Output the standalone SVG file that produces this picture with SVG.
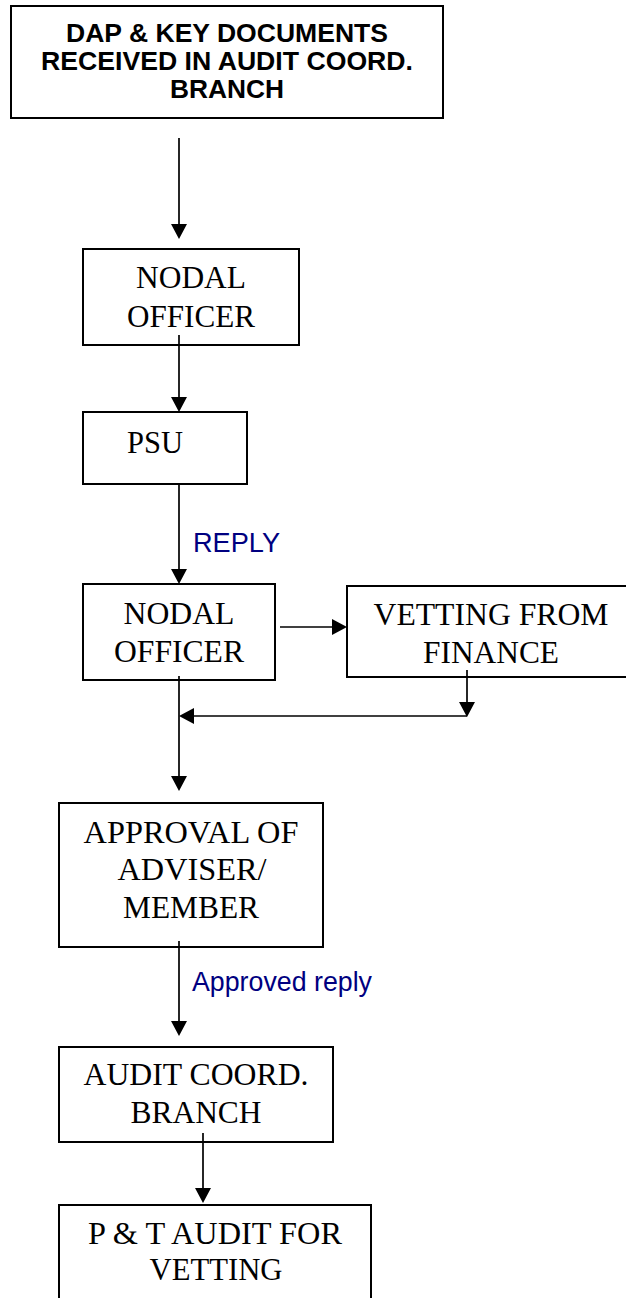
<svg xmlns="http://www.w3.org/2000/svg" width="626" height="1298" viewBox="0 0 626 1298">
  <style>
    .box { fill: #ffffff; stroke: #000000; stroke-width: 2; }
    .t { font-family: "Liberation Serif", "Times New Roman", serif; font-size: 31.5px; fill: #000000; text-anchor: middle; }
    .hb { font-family: "Liberation Sans", Arial, sans-serif; font-size: 26px; font-weight: bold; fill: #000000; text-anchor: middle; }
    .lbl { font-family: "Liberation Sans", Arial, sans-serif; font-size: 27px; fill: #000080; }
    .c { stroke: #000000; stroke-width: 1.7; fill: none; marker-end: url(#ah); }
  </style>
  <defs>
    <marker id="ah" markerUnits="userSpaceOnUse" markerWidth="16" markerHeight="16" viewBox="0 0 15 16" refX="13" refY="8" orient="auto">
      <path d="M0,0 L15,8 L0,16 Z" fill="#000000"/>
    </marker>
  </defs>

  <rect width="626" height="1298" fill="#ffffff"/>

  <g id="n-dap">
    <rect class="box" x="11" y="6" width="432" height="112"/>
    <text class="hb" x="227" y="42" textLength="322" lengthAdjust="spacingAndGlyphs">DAP &amp; KEY DOCUMENTS</text>
    <text class="hb" x="227" y="70" textLength="372" lengthAdjust="spacingAndGlyphs">RECEIVED IN AUDIT COORD.</text>
    <text class="hb" x="227" y="98" textLength="114" lengthAdjust="spacingAndGlyphs">BRANCH</text>
  </g>

  <g id="n-nodal1">
    <rect class="box" x="83" y="249" width="216" height="96"/>
    <text class="t" x="191" y="288" textLength="110" lengthAdjust="spacingAndGlyphs">NODAL</text>
    <text class="t" x="191" y="327" textLength="128" lengthAdjust="spacingAndGlyphs">OFFICER</text>
  </g>

  <g id="n-psu">
    <rect class="box" x="83" y="412" width="164" height="72"/>
    <text class="t" x="155" y="453" textLength="56" lengthAdjust="spacingAndGlyphs">PSU</text>
  </g>

  <g id="n-nodal2">
    <rect class="box" x="83" y="584" width="192" height="96"/>
    <text class="t" x="179" y="624" textLength="111" lengthAdjust="spacingAndGlyphs">NODAL</text>
    <text class="t" x="179" y="662" textLength="130" lengthAdjust="spacingAndGlyphs">OFFICER</text>
  </g>

  <g id="n-vetting">
    <rect class="box" x="347" y="586" width="280" height="91"/>
    <text class="t" x="491" y="625" textLength="235" lengthAdjust="spacingAndGlyphs">VETTING FROM</text>
    <text class="t" x="491" y="663" textLength="136" lengthAdjust="spacingAndGlyphs">FINANCE</text>
  </g>

  <g id="n-approval">
    <rect class="box" x="59" y="803" width="264" height="144"/>
    <text class="t" x="191" y="843" textLength="215" lengthAdjust="spacingAndGlyphs">APPROVAL OF</text>
    <text class="t" x="192" y="880" textLength="149" lengthAdjust="spacingAndGlyphs">ADVISER/</text>
    <text class="t" x="191" y="918" textLength="136" lengthAdjust="spacingAndGlyphs">MEMBER</text>
  </g>

  <g id="n-audit">
    <rect class="box" x="59" y="1047" width="274" height="95"/>
    <text class="t" x="196" y="1085" textLength="225" lengthAdjust="spacingAndGlyphs">AUDIT COORD.</text>
    <text class="t" x="196" y="1123" textLength="131" lengthAdjust="spacingAndGlyphs">BRANCH</text>
  </g>

  <g id="n-pt">
    <rect class="box" x="59" y="1205" width="312" height="100"/>
    <text class="t" x="215" y="1244" textLength="254" lengthAdjust="spacingAndGlyphs">P &amp; T AUDIT FOR</text>
    <text class="t" x="216" y="1280" textLength="133" lengthAdjust="spacingAndGlyphs">VETTING</text>
  </g>

  <g id="connectors">
    <line class="c" x1="179" y1="138" x2="179" y2="237"/>
    <line class="c" x1="179" y1="335" x2="179" y2="410"/>
    <line class="c" x1="179" y1="484" x2="179" y2="582"/>
    <line class="c" x1="280" y1="627" x2="345" y2="627"/>
    <line class="c" x1="467" y1="670" x2="467" y2="715"/>
    <line class="c" x1="467" y1="716" x2="181" y2="716"/>
    <line class="c" x1="179" y1="676" x2="179" y2="789"/>
    <line class="c" x1="179" y1="941" x2="179" y2="1034"/>
    <line class="c" x1="203" y1="1133" x2="203" y2="1201"/>
    <text class="lbl" x="193" y="552" textLength="87" lengthAdjust="spacingAndGlyphs">REPLY</text>
    <text class="lbl" x="192" y="991" textLength="180" lengthAdjust="spacingAndGlyphs">Approved reply</text>
  </g>
</svg>
